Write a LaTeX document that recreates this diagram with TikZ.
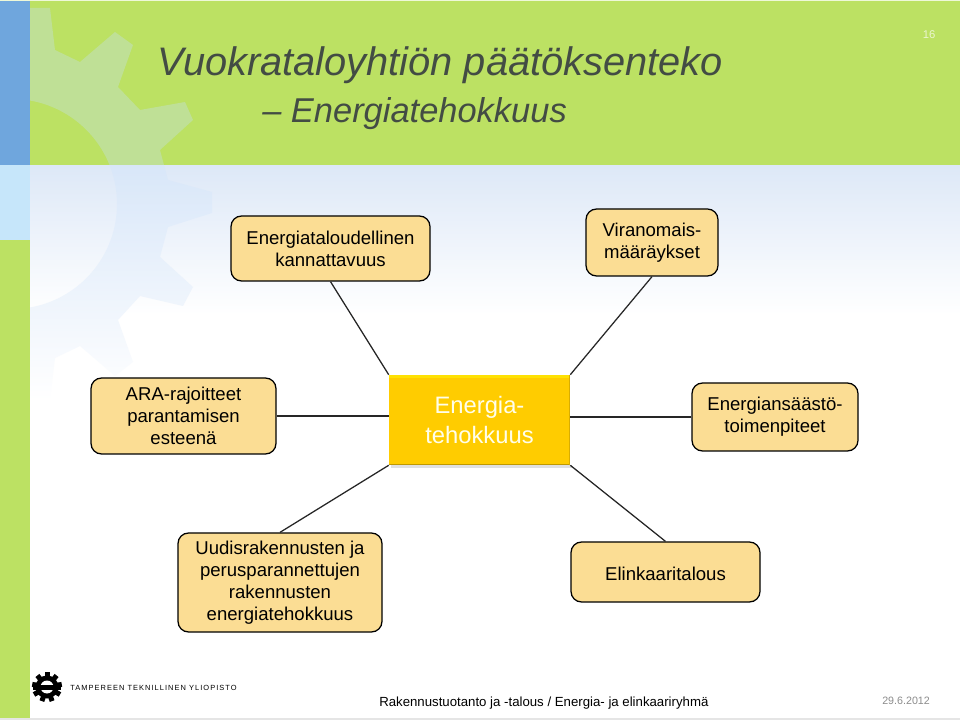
\documentclass[tikz,border=0pt]{standalone}
\usepackage{fontspec}
\setmainfont{Liberation Sans}
\newfontfamily\logofont[LetterSpace=14]{Liberation Sans}
\definecolor{band}{HTML}{BCE163}
\definecolor{strip}{HTML}{6FA6DD}
\definecolor{stripsky}{HTML}{C6E6FA}
\definecolor{skytop}{HTML}{DDE8F7}
\definecolor{geartop}{HTML}{BED6F4}
\definecolor{gearmid}{HTML}{CCE2F7}
\definecolor{gearlight}{HTML}{BFE096}
\definecolor{titlegray}{HTML}{434C44}
\definecolor{boxfill}{HTML}{FBDD94}
\definecolor{centerfill}{HTML}{FFCC00}
\tikzset{
	theme/.style={draw=black,line width=0.9pt,fill=boxfill,rounded corners=7.5pt,align=center,
		font=\fontsize{13.2}{15.6}\selectfont,inner sep=0pt,execute at begin node={\rule{0pt}{11.6pt}}},
	centerbox/.style={fill=centerfill,align=center,text=white!92!yellow,inner sep=0pt,
		font=\fontsize{16.9}{21.2}\selectfont,execute at begin node={\rule{0pt}{17pt}}},
	link/.style={line width=0.9pt,black!85},
	gearshape/.style={insert path={(30,8) -- (50,8) -- (55,50) -- (80,62) -- (115,32) -- (133,45) -- (118,87)
		-- (140,110) -- (185,102) -- (193,120) -- (160,150) -- (168,180) -- (212,192) -- (212,213)
		-- (168,227) -- (160,257) -- (193,287) -- (183,306) -- (140,296) -- (118,320) -- (133,362)
		-- (115,376) -- (80,346) -- (55,358) -- (50,400) -- (30,400) -- (0,400) -- (0,8) -- cycle
		(12,204) circle[radius=105]}}
}

\begin{document}
\begin{tikzpicture}[x=0.025cm,y=-0.025cm]
	\useasboundingbox (0,0) rectangle (960,720);
	% backdrop
	\fill[white] (0,0) rectangle (960,720);
	\shade[top color=skytop,bottom color=white] (0,165) rectangle (960,315);
	% cog, seen through the band and the sky
	\begin{scope}
		\clip (30,165) rectangle (240,420);
		\shade[even odd rule,top color=geartop,middle color=gearmid,bottom color=white,gearshape];
	\end{scope}
	\fill[band] (0,0) rectangle (960,165);
	\begin{scope}
		\clip (30,0) rectangle (240,165);
		\fill[even odd rule,gearlight,gearshape];
	\end{scope}
	\fill[strip] (0,0) rectangle (30,165);
	\fill[stripsky] (0,165) rectangle (30,240);
	\fill[band] (0,240) rectangle (30,718);
	\fill[black!10] (0,717.5) rectangle (960,720);
	\fill[white!75!band] (0,0) rectangle (960,1);

	\node[anchor=base west,font=\fontsize{28.3}{30}\selectfont\itshape,text=titlegray,inner sep=0pt] (title) at (157,76) {Vuokrataloyhtiön päätöksenteko};
	\node[anchor=base west,font=\fontsize{24.5}{26}\selectfont\itshape,text=titlegray,inner sep=0pt] (subtitle) at (262,123) {– Energiatehokkuus};
	\node[font=\fontsize{8}{9}\selectfont,text=white!70!band] (pagenr) at (929,35) {16};

	% themes round the centre
	\node[theme,minimum width=199*0.025cm,minimum height=65*0.025cm] (talous) at (330.5,248.5) {Energiataloudellinen\\kannattavuus};
	\node[theme,minimum width=132*0.025cm,minimum height=67*0.025cm] (viran) at (652,242.5) {Viranomais-\\määräykset};
	\node[theme,minimum width=185*0.025cm,minimum height=76*0.025cm] (ara) at (183.5,416) {ARA-rajoitteet\\parantamisen\\esteenä};
	\node[theme,minimum width=166*0.025cm,minimum height=68*0.025cm] (saasto) at (775,417) {Energiansäästö-\\toimenpiteet};
	\node[theme,minimum width=204*0.025cm,minimum height=99*0.025cm] (uudis) at (280,582.5) {Uudisrakennusten ja\\perusparannettujen\\rakennusten\\energiatehokkuus};
	\node[theme,execute at begin node={},minimum width=189*0.025cm,minimum height=60*0.025cm] (elinkaari) at (665.5,572) {Elinkaaritalous};

	\fill[black!12] (391,465) rectangle (572,468);
	\node[centerbox,minimum width=181*0.025cm,minimum height=90*0.025cm] (energia) at (479.5,420) {Energia-\\tehokkuus};
	\fill[yellow!60!centerfill] (energia.north west) rectangle ([yshift=-2pt]energia.north east);
	\fill[centerfill!75!black] (energia.south west) rectangle ([yshift=1.2pt]energia.south east);
	\fill[centerfill!85!black] (energia.north east) rectangle ([xshift=-1pt]energia.south east);

	\draw[link] (talous.south) -- (energia.north west);
	\draw[link] (viran.south) -- (energia.north east);
	\draw[link] (ara.east) -- (ara.east -| energia.west);
	\draw[link] (saasto.west) -- (saasto.west -| energia.east);
	\draw[link] (uudis.north) -- (energia.south west);
	\draw[link] (elinkaari.north) -- (energia.south east);

	% logo
	\foreach \a in {0,40,...,320}
		\fill[black,rotate around={\a:(47,687)}] (44.5,672) rectangle (49.5,680);
	\fill[black] (47,687) circle[radius=11.5];
	\fill[white] (47,687) circle[radius=6.5];
	\fill[black] (33,684.5) rectangle (61,689.5);
	\node[anchor=west,font=\fontsize{5.3}{6}\selectfont\logofont,text=black,inner sep=0pt] (logo) at (70,687.5) {TAMPEREEN TEKNILLINEN YLIOPISTO};

	% footer
	\node[anchor=base west,font=\fontsize{9.4}{12}\selectfont,inner sep=0pt] (group) at (379,706) {Rakennustuotanto ja -talous / Energia- ja elinkaariryhmä};
	\node[anchor=base west,font=\fontsize{7.6}{10}\selectfont,text=black!45,inner sep=0pt] (date) at (882,704) {29.6.2012};
\end{tikzpicture}
\end{document}
